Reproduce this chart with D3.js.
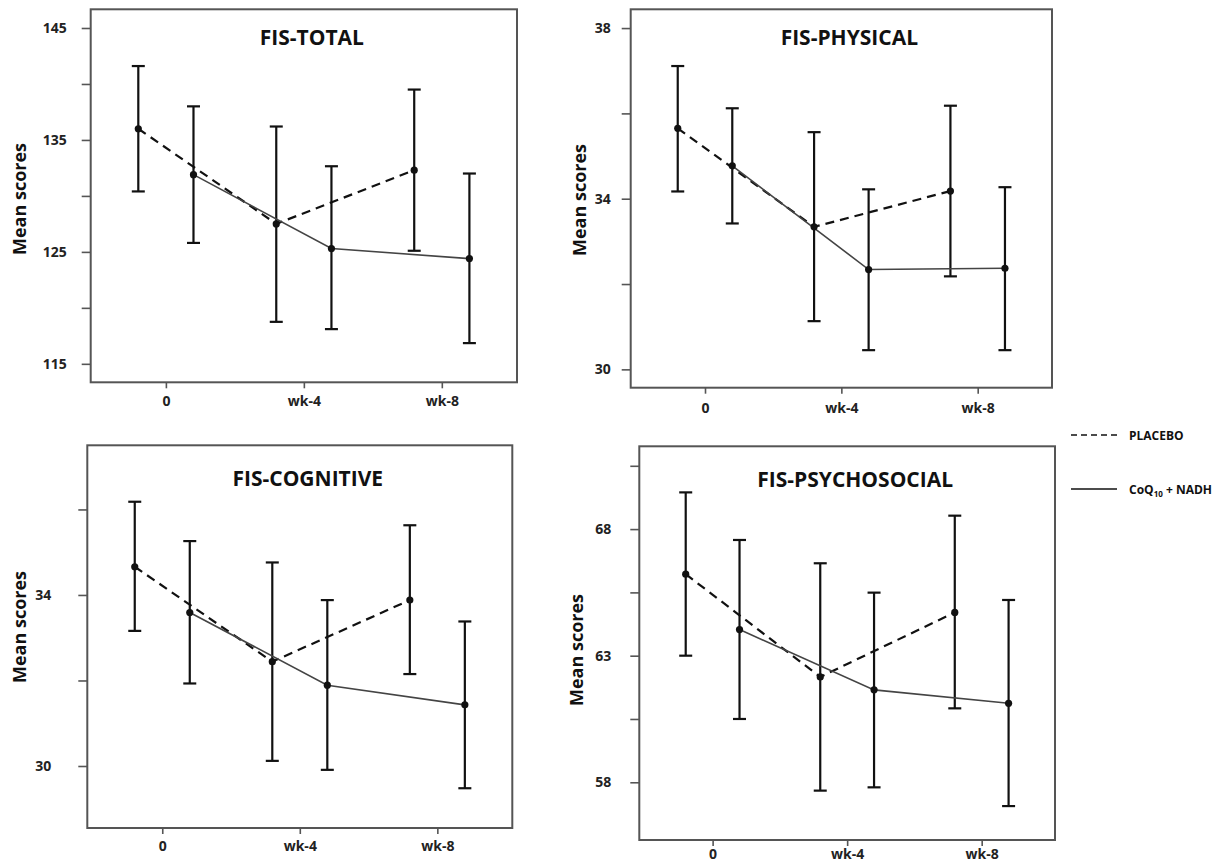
<!DOCTYPE html>
<html>
<head>
    <title>FIS mean scores</title>
    <script src="https://cdnjs.cloudflare.com/ajax/libs/d3/7.8.5/d3.min.js"></script>
    <style>
    body { margin:0; background:#fff; }
    svg text { font-family:"Open Sans", sans-serif; }
    .tick text { font-size:14px; font-weight:700; fill:#222; }
    .title { font-size:21px; font-weight:700; fill:#111; }
    .ylab { font-size:18px; font-weight:700; fill:#111; }
    .legend text { font-size:12px; font-weight:700; fill:#111; }
    </style>
</head>
<body>
<div class="chart-container"></div>
<script>
// x categories
var timepoints = ['0', 'wk-4', 'wk-8'];
var seriesNames = ['PLACEBO', 'CoQ10 + NADH'];

// each entry is [mean, lower, upper]
var totalPlacebo = [[136.0, 130.4, 141.6], [127.5, 118.75, 136.2], [132.3, 125.1, 139.5]];
var totalCoq     = [[131.9, 125.8, 138.0], [125.3, 118.1, 132.65], [124.4, 116.85, 132.0]];
var physPlacebo  = [[35.65, 34.17, 37.11], [33.34, 31.13, 35.56], [34.18, 32.18, 36.18]];
var physCoq      = [[34.77, 33.42, 36.12], [32.34, 30.45, 34.22], [32.37, 30.45, 34.27]];
var cogPlacebo   = [[34.66, 33.16, 36.18], [32.44, 30.12, 34.76], [33.88, 32.15, 35.63]];
var cogCoq       = [[33.59, 31.93, 35.26], [31.89, 29.91, 33.88], [31.43, 29.48, 33.38]];
var psyPlacebo   = [[66.22, 63.0, 69.45], [62.16, 57.67, 66.65], [64.71, 60.92, 68.53]];
var psyCoq       = [[64.03, 60.5, 67.57], [61.65, 57.8, 65.49], [61.12, 57.06, 65.2]];

// y ticks (only some get a label)
var totalTicks = [115, 120, 125, 130, 135, 140, 145];
var totalTickLabels = ['115', '', '125', '', '135', '', '145'];
var physTicks = [30, 32, 34, 36, 38];
var physTickLabels = ['30', '', '34', '', '38'];
var cogTicks = [30, 32, 34, 36];
var cogTickLabels = ['30', '', '34', ''];
var psyTicks = [58, 60.5, 63, 65.5, 68, 70.5];
var psyTickLabels = ['58', '', '63', '', '68', ''];

var width = 1227;
var height = 863;

// layout of the four panels: box = [left, top, right, bottom]
var panels = [
    {title:'FIS-TOTAL', placebo:totalPlacebo, coq:totalCoq, ticks:totalTicks, labels:totalTickLabels,
     domain:[113.35, 146.67], box:[90.7, 9.3, 517, 382.3], pad:15, xpad:8, labX:19.7, labY:199, titleY:36},
    {title:'FIS-PHYSICAL', placebo:physPlacebo, coq:physCoq, ticks:physTicks, labels:physTickLabels,
     domain:[29.57, 38.44], box:[630.7, 9.3, 1052, 387.7], pad:11, xpad:9, labX:579.5, labY:200, titleY:36},
    {title:'FIS-COGNITIVE', placebo:cogPlacebo, coq:cogCoq, ticks:cogTicks, labels:cogTickLabels,
     domain:[28.55, 37.5], box:[87.3, 445.3, 512.3, 828], pad:27, xpad:7, labX:19.5, labY:627, titleY:41},
    {title:'FIS-PSYCHOSOCIAL', placebo:psyPlacebo, coq:psyCoq, ticks:psyTicks, labels:psyTickLabels,
     domain:[55.72, 71.27], box:[639.3, 446.3, 1055, 840], pad:19, xpad:3, labX:576.5, labY:650, titleY:41}
];

var svg = d3.select('.chart-container').append('svg')
    .attr('width', width)
    .attr('height', height);

function styleAxis(sel) {
    sel.select('.domain').remove();
    sel.selectAll('.tick line').attr('stroke', '#555').attr('stroke-width', 1.6);
}

function drawPanel(p) {
    var x = d3.scaleLinear().domain([-0.545, 2.545]).range([p.box[0], p.box[2]]);
    var y = d3.scaleLinear().domain(p.domain).range([p.box[3], p.box[1]]);
    var g = svg.append('g');

    // frame round the plot
    g.append('rect')
        .attr('x', p.box[0])
        .attr('y', p.box[1])
        .attr('width', p.box[2] - p.box[0])
        .attr('height', p.box[3] - p.box[1])
        .attr('fill', 'none')
        .attr('stroke', '#555')
        .attr('stroke-width', 2);

    var yAxis = d3.axisLeft(y)
        .tickValues(p.ticks)
        .tickFormat(function(d, i) { return p.labels[i]; })
        .tickSize(9)
        .tickPadding(p.pad);
    g.append('g')
        .attr('transform', 'translate(' + p.box[0] + ',0)')
        .call(yAxis)
        .call(styleAxis);

    var xAxis = d3.axisBottom(x)
        .tickValues([0, 1, 2])
        .tickFormat(function(d) { return timepoints[d]; })
        .tickSize(6)
        .tickPadding(p.xpad);
    g.append('g')
        .attr('transform', 'translate(0,' + p.box[3] + ')')
        .call(xAxis)
        .call(styleAxis);

    // title and y label
    g.append('text')
        .attr('class', 'title')
        .attr('x', (p.box[0] + p.box[2]) / 2 + 8)
        .attr('y', p.box[1] + p.titleY)
        .attr('text-anchor', 'middle')
        .text(p.title);

    g.append('text')
        .attr('class', 'ylab')
        .attr('transform', 'translate(' + p.labX + ',' + p.labY + ') rotate(-90)')
        .attr('text-anchor', 'middle')
        .attr('dy', '0.35em')
        .text('Mean scores');

    var series = [
        {vals:p.placebo, off:-0.2, dash:'9,6', color:'#111', lw:2.2},
        {vals:p.coq, off:0.2, dash:null, color:'#444', lw:1.6}
    ];

    // error bars first
    series.forEach(function(s) {
        s.vals.forEach(function(v, i) {
            var cx = x(i + s.off);
            g.append('line')
                .attr('x1', cx).attr('x2', cx)
                .attr('y1', y(v[1])).attr('y2', y(v[2]))
                .attr('stroke', '#111').attr('stroke-width', 2.2);
            [v[1], v[2]].forEach(function(e) {
                g.append('line')
                    .attr('x1', cx - 6.5).attr('x2', cx + 6.5)
                    .attr('y1', y(e)).attr('y2', y(e))
                    .attr('stroke', '#111').attr('stroke-width', 2.2);
            });
        });
    });

    // mean lines and dots
    series.forEach(function(s) {
        var line = d3.line()
            .x(function(v, i) { return x(i + s.off); })
            .y(function(v) { return y(v[0]); });
        g.append('path')
            .datum(s.vals)
            .attr('d', line)
            .attr('fill', 'none')
            .attr('stroke', s.color)
            .attr('stroke-width', s.lw)
            .attr('stroke-dasharray', s.dash);
    });
    series.forEach(function(s) {
        s.vals.forEach(function(v, i) {
            g.append('circle')
                .attr('cx', x(i + s.off))
                .attr('cy', y(v[0]))
                .attr('r', 3.6)
                .attr('fill', '#111');
        });
    });
}

panels.forEach(drawPanel);

// legend on the right
var legend = svg.append('g').attr('class', 'legend');
var legendRows = [
    {name:seriesNames[0], y:435, dash:'6,4'},
    {name:seriesNames[1], y:489, dash:null}
];
legendRows.forEach(function(r, i) {
    legend.append('line')
        .attr('x1', 1071).attr('x2', 1117)
        .attr('y1', r.y).attr('y2', r.y)
        .attr('stroke', '#111')
        .attr('stroke-width', 1.6)
        .attr('stroke-dasharray', r.dash);
    var t = legend.append('text')
        .attr('x', 1129)
        .attr('y', r.y)
        .attr('dy', '0.38em');
    if (i == 0) {
        t.text(r.name);
    } else {
        t.append('tspan').text('CoQ');
        t.append('tspan').text('10').attr('font-size', '8px').attr('dy', '3');
        t.append('tspan').text(' + NADH').attr('dy', '-3');
    }
});
</script>
</body>
</html>
